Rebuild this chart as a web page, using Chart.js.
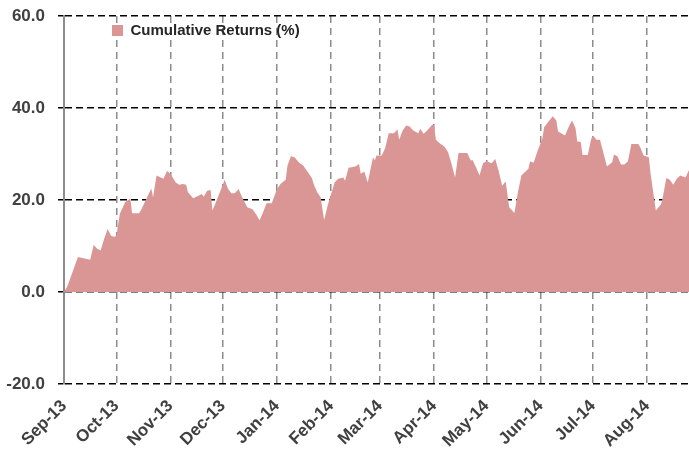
<!DOCTYPE html>
<html>
<head>
<meta charset="utf-8">
<script src="https://cdn.jsdelivr.net/npm/chart.js@4/dist/chart.umd.min.js"></script>
<style>
  body { margin: 0; background: #fff; }
  #wrap { width: 689px; height: 452px; }
</style>
</head>
<body>
<div id="wrap"><canvas id="returns-chart" width="689" height="452"></canvas></div>
<script>
"use strict";

// days since 1 Sep 2013
const dayOffsets = [
  0, 2, 8, 13, 15, 17, 19, 21, 23, 25, 27, 29, 30, 32, 35, 38, 39, 43, 44, 48,
  50, 51, 53, 57, 59, 61, 64, 66, 68, 70, 71, 74, 77, 79, 80, 82, 84, 85, 87, 90,
  92, 94, 96, 98, 100, 102, 105, 108, 110, 112, 114, 116, 119, 122, 124, 127, 128, 130, 132, 135,
  137, 139, 142, 143, 145, 147, 149, 151, 153, 155, 157, 160, 161, 163, 167, 169, 170, 172, 174, 177,
  178, 179, 182, 184, 186, 189, 191, 192, 194, 196, 198, 200, 203, 204, 206, 208, 211, 212, 213, 215,
  218, 220, 222, 224, 226, 231, 233, 234, 236, 238, 240, 242, 245, 247, 249, 251, 253, 255, 258, 260,
  262, 266, 267, 269, 271, 274, 275, 278, 280, 282, 283, 287, 289, 291, 293, 294, 296, 297, 300, 302,
  303, 305, 307, 309, 311, 314, 315, 317, 319, 321, 323, 325, 329, 330, 332, 335, 336, 339, 342, 343,
  345, 347, 349, 351, 353, 356, 358
];

const cumulativeReturns = [
  0.0, 1.3, 7.6, 7.2, 7.0, 10.2, 9.4, 9.0, 11.6, 13.7, 12.2, 12.0, 12.3, 17.0, 19.5, 20.3, 17.1, 17.1, 17.7, 20.9,
  22.5, 20.6, 25.3, 24.6, 26.3, 25.7, 23.8, 23.3, 23.5, 23.3, 21.7, 20.4, 20.9, 21.3, 20.7, 22.0, 22.2, 17.7, 19.5, 22.4,
  24.4, 22.4, 21.4, 21.5, 22.4, 20.6, 18.4, 18.0, 16.9, 15.6, 17.3, 19.3, 19.3, 22.4, 23.5, 24.4, 27.5, 29.5, 29.3, 28.0,
  27.5, 26.4, 24.8, 23.5, 21.7, 20.6, 15.6, 18.8, 21.3, 23.8, 24.6, 24.9, 24.2, 27.0, 27.3, 27.8, 25.7, 26.2, 23.8, 29.3,
  28.6, 29.7, 29.7, 31.3, 34.5, 34.5, 35.3, 33.1, 35.1, 36.2, 36.0, 35.1, 34.5, 35.5, 34.4, 35.1, 36.4, 36.2, 33.1, 32.4,
  31.6, 30.4, 27.8, 24.9, 30.2, 30.2, 28.6, 28.7, 27.1, 25.3, 28.0, 28.4, 28.0, 28.9, 26.3, 23.1, 24.0, 18.4, 17.2, 21.7,
  25.3, 26.8, 28.4, 28.1, 30.4, 33.3, 35.8, 37.3, 38.2, 37.3, 34.9, 34.0, 35.8, 37.3, 35.6, 32.7, 32.6, 29.8, 29.8, 33.3,
  34.0, 33.1, 33.1, 30.2, 27.3, 28.2, 29.9, 29.5, 27.7, 27.7, 28.4, 32.2, 32.2, 31.5, 29.7, 29.3, 25.7, 17.7, 19.1, 20.6,
  24.8, 24.4, 23.3, 24.6, 25.3, 24.9, 26.5
];

const monthTickDays = [0, 30, 61, 91, 122, 153, 181, 212, 242, 273, 303, 334];
const monthLabels = [
  "Sep-13", "Oct-13", "Nov-13", "Dec-13", "Jan-14", "Feb-14",
  "Mar-14", "Apr-14", "May-14", "Jun-14", "Jul-14", "Aug-14"
];

const yTicks = [-20, 0, 20, 40, 60];

const FILL = "#D99694";
const TEXT = "#404040";
const FONT = "'Liberation Sans', Arial, sans-serif";

// legend sits inside the plot, a little right of the axis
const legendInside = {
  id: "legendInside",
  afterLayout(chart) {
    const lg = chart.legend;
    if (!lg) return;
    lg.left = chart.chartArea.left + 38;
    lg.right = chart.chartArea.right;
    lg.top = chart.chartArea.top - 3;
  },
};

function render() {
  const ctx = document.getElementById("returns-chart").getContext("2d");
  new Chart(ctx, {
    type: "line",
    data: {
      datasets: [
        {
          label: "Cumulative Returns (%)",
          data: dayOffsets.map((d, i) => ({ x: d, y: cumulativeReturns[i] })),
          backgroundColor: FILL,
          borderColor: FILL,
          borderWidth: 0,
          pointRadius: 0,
          tension: 0,
          fill: "origin",
        },
      ],
    },
    options: {
      responsive: false,
      animation: false,
      layout: { padding: { top: 16, right: 0, bottom: 0, left: 0 } },
      plugins: {
        tooltip: { enabled: false },
        legend: {
          position: "chartArea",
          align: "start",
          labels: {
            boxWidth: 11,
            boxHeight: 11,
            color: "#262626",
            font: { family: FONT, size: 15, weight: "bold" },
          },
        },
      },
      scales: {
        x: {
          type: "linear",
          min: 0,
          max: 358,
          afterBuildTicks(scale) {
            scale.ticks = monthTickDays.map((v) => ({ value: v }));
          },
          afterFit(scale) {
            scale.height = 68;
          },
          ticks: {
            autoSkip: false,
            minRotation: 45,
            maxRotation: 45,
            padding: 12,
            color: TEXT,
            font: { family: FONT, size: 17, weight: "bold" },
            callback: (v, i) => monthLabels[i],
          },
          grid: {
            color: "#8c8c8c",
            lineWidth: 1.5,
            drawTicks: false,
          },
          border: { display: false, dash: [7, 5] },
        },
        y: {
          min: -20,
          max: 60,
          afterBuildTicks(scale) {
            scale.ticks = yTicks.map((v) => ({ value: v }));
          },
          afterFit(scale) {
            scale.width = 64;
            scale.paddingTop = 0;
            scale.paddingBottom = 0;
          },
          ticks: {
            padding: 13,
            color: TEXT,
            font: { family: FONT, size: 17, weight: "bold" },
            callback: (v) => v.toFixed(1),
          },
          grid: {
            color: "#000000",
            lineWidth: 1.5,
            tickLength: 6,
            tickColor: "#000000",
          },
          border: { display: true, color: "#8c8c8c", width: 2, dash: [7, 4] },
        },
      },
    },
    plugins: [legendInside],
  });
}

render();
</script>
</body>
</html>
